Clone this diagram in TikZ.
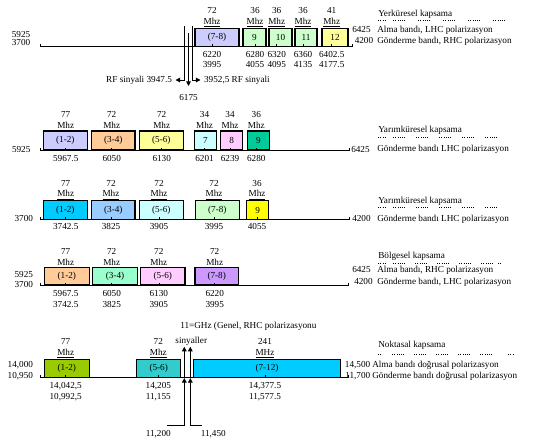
\documentclass[tikz,border=0pt]{standalone}
\usepackage{fontspec}
\setmainfont{Liberation Serif}
\usetikzlibrary{arrows.meta}
\definecolor{lavender}{HTML}{CCCCFF}
\definecolor{mint}{HTML}{CCFFCC}
\definecolor{cream}{HTML}{FFFF99}
\definecolor{peach}{HTML}{FFCC99}
\definecolor{icecyan}{HTML}{CCFFFF}
\definecolor{pinky}{HTML}{FFCCFF}
\definecolor{seagreen}{HTML}{00CC99}
\definecolor{skycyan}{HTML}{00CCFF}
\definecolor{paleblue}{HTML}{99CCFF}
\definecolor{brightyellow}{HTML}{FFFF00}
\definecolor{aqua}{HTML}{99FFCC}
\definecolor{lilac}{HTML}{CC99FF}
\definecolor{grassgreen}{HTML}{99CC00}
\definecolor{tealblue}{HTML}{33CCCC}

\begin{document}
\begin{tikzpicture}[x=0.75pt, y=-0.75pt, font=\fontsize{6.9}{8.2}\selectfont,
    chan/.style 2 args={draw, line width=0.9pt, inner sep=0pt, minimum width=#1*0.75pt, minimum height=#2*0.75pt},
    lbl/.style={inner sep=0pt, align=center},
    txt/.style={inner sep=0pt, text height=4.7pt, text depth=1.3pt},
    axis/.style={line width=0.65pt},
    dots/.style={line width=0.6pt, dash pattern=on 0.6pt off 1.1pt},
    sig/.style={line width=0.7pt, -{Triangle[length=3.5pt, width=3.5pt]}}]
  \useasboundingbox (0,0) rectangle (538,444);

  % Yerkuresel kapsama
  \draw[axis] (40.7,44.2) |- (352.7,46.7) -- ++(0,-2.5);
  \foreach \n/\cx/\w/\col/\txt/\fx/\hz/\low in {
      y78/217/44/lavender/(7-8)/212/72/{6220\\3995},
      y9/254.5/23/mint/9/255/36/{6280\\4055},
      y10/280.5/23/mint/10/276.7/36/{6320\\4095},
      y11/306/22/mint/11/303/36/{6360\\4135},
      y12/335/26/cream/12/331.7/41/{6402.5\\4177.5}}
  {
    \node[chan={\w}{18}, fill=\col] (\n) at (\cx,37.5) {\txt};
    \draw (\fx,46.5) -- ++(0,-2.5);
    \node[lbl] (\n-hz) at (\fx,17.2) {\hz\\\underline{Mhz}};
    \node[lbl] (\n-lo) at (\fx,59.5) {\low};
  }
  \node[txt, anchor=east] (y-l1) at (30.5,35) {5925};
  \node[txt, anchor=east] (y-l2) at (30.5,43.5) {3700};
  \node[txt, anchor=west] (y-r1) at (352,30.7) {6425};
  \node[txt, anchor=west] (y-r2) at (354.5,41.7) {4200};
  \node[txt, anchor=west] (y-name) at (378,14) {Yerküresel kapsama};
  \foreach \s/\l in {0/7,15/12,40/12,65/12,90/12,115/12}
    \draw[dots] (378+\s,20) -- ++(\l,0);
  \node[txt, anchor=west] (y-alma) at (377,30.7) {Alma bandı, LHC polarizasyon};
  \node[txt, anchor=west] (y-gon) at (377,41.7) {Gönderme bandı, RHC polarizasyon};

  % RF sinyalleri
  \node[txt, inner xsep=2.5pt, anchor=east] (rf1) at (175.5,80) {RF sinyali 3947.5};
  \node[txt, inner xsep=2.5pt, anchor=west] (rf2) at (200.5,80) {3952,5 RF sinyali};
  \node[txt] (f6175) at (188.5,98.3) {6175};
  \coordinate (t6175) at (188.5,86);
  \draw[sig] (184.3,26) |- (rf1.east);
  \draw[sig] (192.7,26) |- (rf2.west);
  \draw[sig] (188.5,33) -- (t6175);

  % Yarimkuresel kapsama, 5925
  \draw[axis] (40.7,147.5) |- (349.3,150) -- ++(0,-2.5);
  \foreach \n/\cx/\w/\col/\txt/\fx/\hz/\low in {
      h12/65.3/44/lavender/(1-2)/65.7/77/5967.5,
      h34/113.3/43.3/peach/(3-4)/111.7/72/6050,
      h56/161.3/44/cream/(5-6)/161.7/72/6130,
      h7/205.5/22.4/icecyan/7/204.5/34/6201,
      h8/231.7/22/pinky/8/230/34/6239,
      h9/258.3/22/seagreen/9/256.3/36/6280}
  {
    \node[chan={\w}{19}, fill=\col] (\n) at (\cx,140.5) {\txt};
    \draw (\fx,150) -- ++(0,-2.5);
    \node[lbl] (\n-hz) at (\fx,121.3) {\hz\\\underline{Mhz}};
    \node[txt] (\n-lo) at (\fx,159) {\low};
  }
  \node[txt, anchor=east] (h-l1) at (30.7,150.7) {5925};
  \node[txt, anchor=west] (h-r1) at (351,150) {6425};
  \node[txt, anchor=west] (h-name) at (378,130) {Yarımküresel kapsama};
  \foreach \s/\l in {0/7,15/12,38/12,61/12,84/12,107/12}
    \draw[dots] (378+\s,137.3) -- ++(\l,0);
  \node[txt, anchor=west] (h-gon) at (377,149.3) {Gönderme bandı LHC polarizasyon};

  % Yarimkuresel kapsama, 3700
  \draw[axis] (40.7,216.8) |- (349.3,219.3) -- ++(0,-2.5);
  \foreach \n/\cx/\w/\col/\txt/\fx/\hz/\low in {
      m12/65.3/44/skycyan/(1-2)/65.7/77/3742.5,
      m34/113.3/43.3/paleblue/(3-4)/111/72/3825,
      m56/161.3/44/icecyan/(5-6)/159/72/3905,
      m78/217.3/44/mint/(7-8)/214/72/3995,
      m9/257.7/22/brightyellow/9/257/36/4055}
  {
    \node[chan={\w}{18.6}, fill=\col] (\n) at (\cx,210) {\txt};
    \draw (\fx,219.3) -- ++(0,-2.5);
    \node[lbl] (\n-hz) at (\fx,189.8) {\hz\\\underline{Mhz}};
    \node[txt] (\n-lo) at (\fx,227.7) {\low};
  }
  \node[txt, anchor=east] (m-l1) at (33.3,219.3) {3700};
  \node[txt, anchor=west] (m-r1) at (352,219.3) {4200};
  \node[txt, anchor=west] (m-name) at (378,201.7) {Yarımküresel kapsama};
  \foreach \s/\l in {0/7,15/12,38/12,61/12,84/12,107/12}
    \draw[dots] (378+\s,207.3) -- ++(\l,0);
  \node[txt, anchor=west] (m-gon) at (377,219.3) {Gönderme bandı LHC polarizasyon};

  % Bolgesel kapsama
  \draw[axis] (40.7,282.5) |- (348.3,285) -- ++(0,-2.5);
  \foreach \n/\cx/\w/\col/\txt/\fx/\hz/\low in {
      b12/66.8/45/peach/(1-2)/65.7/77/{5967.5\\3742.5},
      b34/115/44.6/aqua/(3-4)/111.7/72/{6050\\3825},
      b56/162.8/44.3/pinky/(5-6)/158.8/72/{6130\\3905},
      b78/216.7/43.3/lilac/(7-8)/214.7/72/{6220\\3995}}
  {
    \node[chan={\w}{17.3}, fill=\col] (\n) at (\cx,276.3) {\txt};
    \draw (\fx,285) -- ++(0,-2.5);
    \node[lbl] (\n-hz) at (\fx,258) {\hz\\\underline{Mhz}};
    \node[lbl] (\n-lo) at (\fx,299.2) {\low};
  }
  \node[txt, anchor=east] (b-l1) at (33.3,275) {5925};
  \node[txt, anchor=east] (b-l2) at (33.3,285) {3700};
  \node[txt, anchor=west] (b-r1) at (352,270) {6425};
  \node[txt, anchor=west] (b-r2) at (354,282.5) {4200};
  \node[txt, anchor=west] (b-name) at (378,256.7) {Bölgesel kapsama};
  \foreach \s/\l in {0/7,15/12,37/12,59/12,81/12,103/12,120/3}
    \draw[dots] (378+\s,263.3) -- ++(\l,0);
  \node[txt, anchor=west] (b-alma) at (377,270) {Alma bandı, RHC polarizasyon};
  \node[txt, anchor=west] (b-gon) at (377,282.5) {Gönderme bandı, LHC polarizasyon};

  % Noktasal kapsama
  \node[txt, anchor=west] (genel) at (180,326) {11=GHz (Genel, RHC polarizasyonu};
  \draw[axis] (40.7,375.2) |- (348.3,377.7) -- ++(0,-2.5);
  \foreach \n/\cx/\w/\col/\txt/\fx/\hz/\un/\low in {
      n12/66.8/45/grassgreen/(1-2)/65.7/77/Mhz/{14,042,5\\10,992,5},
      n56/158.7/44/tealblue/(5-6)/158.3/72/Mhz/{14,205\\11,155},
      n712/267/147.4/skycyan/(7-12)/265/241/MHz/{14,377.5\\11,577.5}}
  {
    \node[chan={\w}{18.4}, fill=\col] (\n) at (\cx,368.5) {\txt};
    \draw (\fx,377.7) -- ++(0,-2.5);
    \node[lbl] (\n-hz) at (\fx,348.5) {\hz\\\underline{\un}};
    \node[lbl] (\n-lo) at (\fx,392) {\low};
  }
  \node[txt, anchor=east] (n-l1) at (33.3,365) {14,000};
  \node[txt, anchor=east] (n-l2) at (33.3,376.7) {10,950};
  \node[txt, anchor=east] (n-r1) at (370.5,365) {14,500};
  \node[txt, anchor=east] (n-r2) at (370.5,376.5) {11,700};
  \node[txt, anchor=west] (n-name) at (378,345) {Noktasal kapsama};
  \foreach \s/\l in {0/4,14/12,36/12,58/12,80/12,102/12,130/6}
    \draw[dots] (378+\s,354.3) -- ++(\l,0);
  \node[txt, anchor=west] (n-alma) at (372,365) {Alma bandı doğrusal polarizasyon};
  \node[txt, anchor=west] (n-gon) at (372,376.5) {Gönderme bandı doğrusal polarizasyon};

  % sinyaller
  \node[txt] (sinyal) at (191.3,341.7) {sinyaller};
  \coordinate (s1) at (184.3,378);
  \coordinate (s2) at (190.3,378);
  \draw[sig] (166.7,425.7) -| (s1);
  \draw[sig] (s1) -- (184.3,346.7);
  \draw[sig] (201.7,425.7) -| (s2);
  \draw[sig] (s2) -- (190.3,346.7);
  \node[txt] (f11200) at (158.3,434.3) {11,200};
  \node[txt] (f11450) at (213.3,434.3) {11,450};
\end{tikzpicture}
\end{document}
